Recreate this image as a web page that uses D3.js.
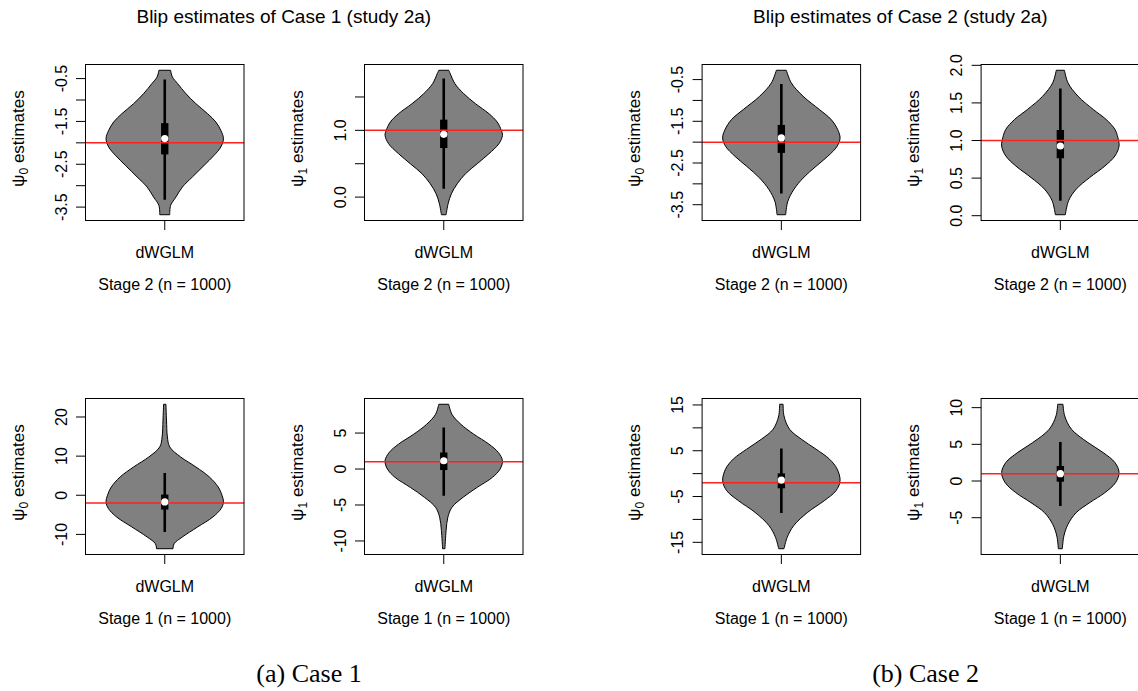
<!DOCTYPE html>
<html>
<head>
<meta charset="utf-8">
<script src="https://cdn.jsdelivr.net/npm/d3@7"></script>
<style>
  html, body { margin: 0; padding: 0; background: #fff; }
  svg { display: block; }
  text { font-family: "Liberation Sans", Arial, Helvetica, sans-serif; fill: #000; }
  .caption { font-family: "Liberation Serif", "Times New Roman", serif; }
</style>
</head>
<body>
<svg id="chart" width="1138" height="691"></svg>
<script>
// ---------- data ----------
// Violin outlines: estimate values (bottom to top) and relative half-widths.
// Box summaries: [lower whisker, Q1, median, Q3, upper whisker].

// Case 1, stage 2, psi0
const c1s2p0Values = [-3.678, -3.46, -3.266, -3.032, -2.798, -2.526, -2.292, -2.097, -1.903, -1.708, -1.513, -1.319, -1.085, -0.851, -0.618, -0.462, -0.306];
const c1s2p0Widths = [0.085, 0.10, 0.19, 0.30, 0.47, 0.67, 0.84, 0.955, 1.0, 0.955, 0.87, 0.73, 0.53, 0.36, 0.22, 0.13, 0.10];
const c1s2p0Box = [-3.33, -2.27, -1.90, -1.54, -0.52];
const c1s2p0Ticks = [-3.5, -3, -2.5, -2, -1.5, -1, -0.5];
const c1s2p0Labels = ["-3.5", "", "-2.5", "", "-1.5", "", "-0.5"];

// Case 1, stage 2, psi1
const c1s2p1Values = [-0.264, -0.10, 0.05, 0.20, 0.35, 0.50, 0.65, 0.80, 0.925, 1.0, 1.125, 1.25, 1.40, 1.55, 1.70, 1.85, 1.90];
const c1s2p1Widths = [0.04, 0.074, 0.13, 0.23, 0.37, 0.57, 0.77, 0.94, 1.0, 0.98, 0.91, 0.77, 0.54, 0.34, 0.19, 0.11, 0.085];
const c1s2p1Box = [0.125, 0.735, 0.94, 1.16, 1.775];
const c1s2p1Ticks = [0, 0.5, 1, 1.5];
const c1s2p1Labels = ["0.0", "", "1.0", ""];

// Case 1, stage 1, psi0
const c1s1p0Values = [-13.66, -12.36, -10.66, -8.1, -5.55, -3.4, -1.7, 0.0, 2.12, 4.68, 7.24, 9.8, 12.35, 14.9, 19.2, 23.25];
const c1s1p0Widths = [0.14, 0.16, 0.30, 0.56, 0.82, 0.96, 1.0, 0.975, 0.91, 0.76, 0.53, 0.27, 0.085, 0.045, 0.03, 0.02];
const c1s1p0Box = [-9.4, -3.66, -1.7, 0.18, 5.7];
const c1s1p0Ticks = [-10, 0, 10, 20];
const c1s1p0Labels = ["-10", "0", "10", "20"];

// Case 1, stage 1, psi1
const c1s1p1Values = [-11.08, -8.55, -6.7, -5.32, -3.93, -2.55, -1.16, 0.0, 1.15, 2.3, 3.46, 4.85, 6.23, 7.6, 9.0];
const c1s1p1Widths = [0.02, 0.04, 0.07, 0.14, 0.33, 0.57, 0.83, 0.96, 1.0, 0.93, 0.77, 0.51, 0.29, 0.14, 0.085];
const c1s1p1Box = [-3.7, -0.14, 1.15, 2.3, 5.76];
const c1s1p1Ticks = [-10, -5, 0, 5];
const c1s1p1Labels = ["-10", "-5", "0", "5"];

// Case 2, stage 2, psi0
const c2s2p0Values = [-3.74, -3.42, -3.14, -2.86, -2.58, -2.34, -2.10, -1.90, -1.70, -1.46, -1.22, -0.90, -0.58, -0.277];
const c2s2p0Widths = [0.073, 0.11, 0.21, 0.37, 0.59, 0.79, 0.95, 1.0, 0.96, 0.85, 0.65, 0.37, 0.17, 0.085];
const c2s2p0Box = [-3.234, -2.258, -1.90, -1.587, -0.603];
const c2s2p0Ticks = [-3.5, -3, -2.5, -2, -1.5, -1, -0.5];
const c2s2p0Labels = ["-3.5", "", "-2.5", "", "-1.5", "", "-0.5"];

// Case 2, stage 2, psi1
const c2s2p1Values = [0.013, 0.199, 0.353, 0.508, 0.662, 0.795, 0.927, 1.038, 1.148, 1.28, 1.413, 1.59, 1.767, 1.934];
const c2s2p1Widths = [0.085, 0.14, 0.27, 0.50, 0.76, 0.93, 1.0, 0.98, 0.93, 0.78, 0.56, 0.30, 0.13, 0.07];
const c2s2p1Box = [0.2, 0.764, 0.927, 1.14, 1.69];
const c2s2p1Ticks = [0, 0.5, 1, 1.5, 2];
const c2s2p1Labels = ["0.0", "0.5", "1.0", "1.5", "2.0"];

// Case 2, stage 1, psi0
const c2s1p0Values = [-16.4, -13.9, -11.36, -8.44, -5.92, -3.74, -1.56, 1.0, 3.17, 5.35, 7.53, 9.7, 12.6, 15.15];
const c2s1p0Widths = [0.045, 0.10, 0.21, 0.45, 0.73, 0.93, 1.0, 0.95, 0.82, 0.59, 0.34, 0.14, 0.045, 0.03];
const c2s1p0Box = [-8.6, -3.2, -1.4, 0.05, 5.5];
const c2s1p0Ticks = [-15, -10, -5, 0, 5, 10, 15];
const c2s1p0Labels = ["-15", "", "-5", "", "5", "", "15"];

// Case 2, stage 1, psi1
const c2s1p1Values = [-9.23, -7.5, -5.9, -4.31, -2.95, -1.58, -0.22, 1.15, 2.51, 3.87, 5.24, 7.05, 8.87, 10.46];
const c2s1p1Widths = [0.034, 0.06, 0.13, 0.27, 0.5, 0.76, 0.94, 1.0, 0.93, 0.73, 0.47, 0.19, 0.074, 0.045];
const c2s1p1Box = [-3.41, -0.09, 1.0, 2.05, 5.32];
const c2s1p1Ticks = [-5, 0, 5, 10];
const c2s1p1Labels = ["-5", "0", "5", "10"];

// True blip parameters (reference lines)
const trueValues = { psi0: -2, psi1: 1 };
const methodName = "dWGLM";
const stageLabels = ["Stage 2 (n = 1000)", "Stage 1 (n = 1000)"];
const figureTitles = ["Blip estimates of Case 1 (study 2a)", "Blip estimates of Case 2 (study 2a)"];
const captions = ["(a) Case 1", "(b) Case 2"];

// ---------- layout ----------
const figOffsets = [0, 616.6];
const colLeft = [85.5, 364.5];
const rowTop = [64.5, 398.5];
const boxW = 158.5, boxH = 156;

const panels = [
  { fig: 0, row: 0, col: 0, param: "psi0", sub: "0", values: c1s2p0Values, widths: c1s2p0Widths, box: c1s2p0Box, ticks: c1s2p0Ticks, labels: c1s2p0Labels },
  { fig: 0, row: 0, col: 1, param: "psi1", sub: "1", values: c1s2p1Values, widths: c1s2p1Widths, box: c1s2p1Box, ticks: c1s2p1Ticks, labels: c1s2p1Labels },
  { fig: 0, row: 1, col: 0, param: "psi0", sub: "0", values: c1s1p0Values, widths: c1s1p0Widths, box: c1s1p0Box, ticks: c1s1p0Ticks, labels: c1s1p0Labels },
  { fig: 0, row: 1, col: 1, param: "psi1", sub: "1", values: c1s1p1Values, widths: c1s1p1Widths, box: c1s1p1Box, ticks: c1s1p1Ticks, labels: c1s1p1Labels },
  { fig: 1, row: 0, col: 0, param: "psi0", sub: "0", values: c2s2p0Values, widths: c2s2p0Widths, box: c2s2p0Box, ticks: c2s2p0Ticks, labels: c2s2p0Labels },
  { fig: 1, row: 0, col: 1, param: "psi1", sub: "1", values: c2s2p1Values, widths: c2s2p1Widths, box: c2s2p1Box, ticks: c2s2p1Ticks, labels: c2s2p1Labels },
  { fig: 1, row: 1, col: 0, param: "psi0", sub: "0", values: c2s1p0Values, widths: c2s1p0Widths, box: c2s1p0Box, ticks: c2s1p0Ticks, labels: c2s1p0Labels },
  { fig: 1, row: 1, col: 1, param: "psi1", sub: "1", values: c2s1p1Values, widths: c2s1p1Widths, box: c2s1p1Box, ticks: c2s1p1Ticks, labels: c2s1p1Labels }
];

const svg = d3.select("#chart");
svg.append("rect").attr("width", 1138).attr("height", 691).attr("fill", "#fff");

const figs = figOffsets.map((dx, i) => {
  const g = svg.append("g").attr("transform", `translate(${dx},0)`);
  g.append("text").attr("x", 283.8).attr("y", 23.3).attr("text-anchor", "middle")
    .style("font-size", "19px").text(figureTitles[i]);
  g.append("text").attr("class", "caption").attr("x", 309).attr("y", 682)
    .attr("text-anchor", "middle").style("font-size", "26px").text(captions[i]);
  return g;
});

panels.forEach(p => {
  const g = figs[p.fig].append("g")
    .attr("transform", `translate(${colLeft[p.col]},${rowTop[p.row]})`);

  // R-style axis extents: data range padded by 4% on each side
  const lo = d3.min(p.values), hi = d3.max(p.values);
  const pad = (hi - lo) * 0.04;
  const y = d3.scaleLinear().domain([lo - pad, hi + pad]).range([boxH, 0]);
  const x = d3.scaleLinear().domain([0.46, 1.54]).range([0, boxW]);
  const cx = x(1);
  const halfMax = x(1.4) - x(1);

  const clipId = `clip-${p.fig}-${p.row}-${p.col}`;
  g.append("clipPath").attr("id", clipId)
    .append("rect").attr("width", boxW).attr("height", boxH);
  const plot = g.append("g").attr("clip-path", `url(#${clipId})`);

  // violin body
  const outline = p.values.map((v, i) => ({ v, w: p.widths[i] }));
  const area = d3.area()
    .y(d => y(d.v))
    .x0(d => cx - d.w * halfMax)
    .x1(d => cx + d.w * halfMax)
    .curve(d3.curveCatmullRom.alpha(0.5));
  plot.append("path").datum(outline).attr("d", area)
    .attr("fill", "#808080").attr("stroke", "#000").attr("stroke-width", 1);

  // whisker, box and median
  const [wLo, q1, med, q3, wHi] = p.box;
  plot.append("line").attr("x1", cx).attr("x2", cx)
    .attr("y1", y(wLo)).attr("y2", y(wHi))
    .attr("stroke", "#000").attr("stroke-width", 2.6);
  const bw = x(1.025) - x(0.975);
  plot.append("rect").attr("x", cx - bw / 2).attr("width", bw)
    .attr("y", y(q3)).attr("height", y(q1) - y(q3)).attr("fill", "#000");

  // true value line
  plot.append("line").attr("x1", 0).attr("x2", boxW)
    .attr("y1", y(trueValues[p.param])).attr("y2", y(trueValues[p.param]))
    .attr("stroke", "#ff2020").attr("stroke-width", 1.5);

  plot.append("circle").attr("cx", cx).attr("cy", y(med)).attr("r", 3.6)
    .attr("fill", "#fff");

  // frame
  g.append("rect").attr("width", boxW).attr("height", boxH)
    .attr("fill", "none").attr("stroke", "#000").attr("stroke-width", 1);

  // y axis (ticks at the left edge, labels parallel to the axis)
  const yAxis = g.append("g");
  p.ticks.forEach((t, i) => {
    yAxis.append("line").attr("x1", -9.5).attr("x2", 0)
      .attr("y1", y(t)).attr("y2", y(t)).attr("stroke", "#000");
    if (p.labels[i]) {
      yAxis.append("text")
        .attr("transform", `translate(-18.8,${y(t)}) rotate(-90)`)
        .attr("text-anchor", "middle").style("font-size", "16px")
        .text(p.labels[i]);
    }
  });

  // x axis: single category tick
  g.append("line").attr("x1", cx).attr("x2", cx).attr("y1", boxH).attr("y2", boxH + 9.5)
    .attr("stroke", "#000");
  g.append("text").attr("x", cx).attr("y", boxH + 37.3).attr("text-anchor", "middle")
    .style("font-size", "16px").text(methodName);
  g.append("text").attr("x", cx).attr("y", boxH + 69).attr("text-anchor", "middle")
    .style("font-size", "16px").text(stageLabels[p.row]);

  // y axis title: psi with subscript
  const yt = g.append("text")
    .attr("transform", `translate(-62,${boxH / 2 - 4}) rotate(-90)`)
    .attr("text-anchor", "middle").style("font-size", "17px");
  yt.append("tspan").text("ψ");
  yt.append("tspan").attr("dy", 4).style("font-size", "12px").text(p.sub);
  yt.append("tspan").attr("dy", -4).text(" estimates");
});
</script>
</body>
</html>
